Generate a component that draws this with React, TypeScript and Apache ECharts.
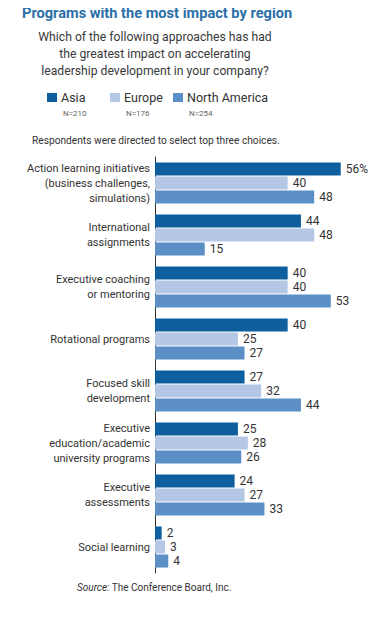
import React, { useEffect, useRef } from "react";
import * as echarts from "echarts";

const categories = [
  "Action learning initiatives\n(business challenges,\nsimulations)",
  "International\nassignments",
  "Executive coaching\nor mentoring",
  "Rotational programs",
  "Focused skill\ndevelopment",
  "Executive\neducation/academic\nuniversity programs",
  "Executive\nassessments",
  "Social learning",
];
const seriesNames = ["Asia", "Europe", "North America"];
const sampleSizes = ["N=210", "N=176", "N=254"];
const asia = [56, 44, 40, 40, 27, 25, 24, 2];
const europe = [40, 48, 40, 25, 32, 28, 27, 3];
const northAmerica = [48, 15, 53, 27, 44, 26, 33, 4];
const colors = ["#0f5e9e", "#b4c7e4", "#5b8fc5"];

const FONT = "Roboto, 'Noto Sans', sans-serif";

export default function App() {
  const ref = useRef<HTMLDivElement>(null);
  useEffect(() => {
    if (!ref.current) return;
    const chart = echarts.init(ref.current, undefined, { renderer: "svg" });
    const values = [asia, europe, northAmerica];
    const legendX = [47, 110, 173];
    chart.setOption({
      animation: false,
      backgroundColor: "#ffffff",
      textStyle: { fontFamily: FONT },
      title: {
        text: "Programs with the most impact by region",
        left: 22,
        top: 5,
        padding: 0,
        textStyle: { fontSize: 14.6, fontWeight: "bold", color: "#2a6fa8", fontFamily: FONT },
      },
      legend: seriesNames.map((n, i) => ({
        data: [n],
        left: legendX[i],
        top: 91,
        itemWidth: 10,
        itemHeight: 9,
        icon: "rect",
        itemGap: 0,
        textStyle: { fontSize: 12.5, color: "#333", fontFamily: FONT, padding: [0, 0, 0, -1] },
        selectedMode: false,
        padding: 0,
      })),
      graphic: [
        {
          type: "text",
          x: 155,
          y: 28,
          style: {
            text: "Which of the following approaches has had\nthe greatest impact on accelerating\nleadership development in your company?",
            fill: "#3a3a3a",
            font: `12.2px ${FONT}`,
            textAlign: "center",
            lineHeight: 17,
          },
        },
        ...sampleSizes.map((s, i) => ({
          type: "text",
          x: legendX[i] + 16,
          y: 109,
          style: { text: s, fill: "#666", font: `8px ${FONT}` },
        })),
        {
          type: "text",
          x: 32,
          y: 135,
          style: {
            text: "Respondents were directed to select top three choices.",
            fill: "#333",
            font: `10.2px ${FONT}`,
          },
        },
        {
          type: "text",
          x: 77,
          y: 582,
          style: {
            text: "{i|Source:} The Conference Board, Inc.",
            fill: "#333",
            font: `10px ${FONT}`,
            rich: { i: { fontStyle: "italic", fontSize: 10, fontFamily: FONT, fill: "#333" } },
          },
        },
      ],
      grid: { left: 155, top: 157, width: 199, height: 416, containLabel: false },
      xAxis: { type: "value", min: 0, max: 60, show: false },
      yAxis: {
        type: "category",
        data: categories,
        inverse: true,
        axisLine: { show: true, lineStyle: { color: "#333", width: 1 } },
        axisTick: { show: false },
        axisLabel: {
          fontSize: 11,
          color: "#333",
          lineHeight: 15,
          align: "right",
          margin: 5,
          fontFamily: FONT,
        },
      },
      series: seriesNames.map((n, si) => ({
        name: n,
        type: "bar",
        data: values[si],
        barWidth: 13,
        barGap: "8%",
        itemStyle: { color: colors[si] },
        label: {
          show: true,
          position: "right",
          distance: 5,
          fontSize: 12,
          color: "#333",
          fontFamily: FONT,
          formatter: (p: any) => (si === 0 && p.dataIndex === 0 ? `${p.value}%` : `${p.value}`),
        },
      })),
    });
    return () => chart.dispose();
  }, []);
  return <div ref={ref} style={{ width: 382, height: 625, margin: -8 }} />;
}
